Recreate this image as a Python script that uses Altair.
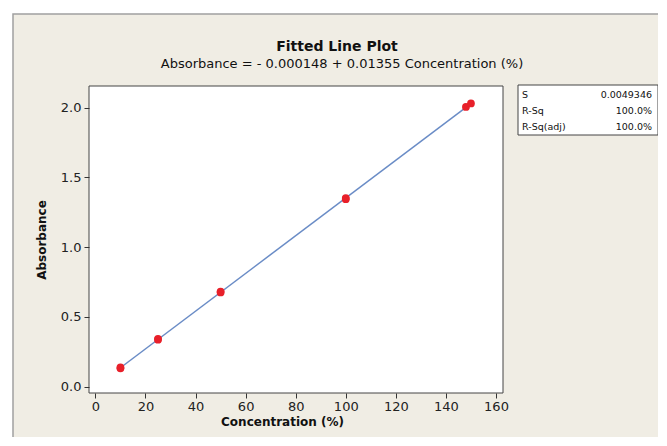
import altair as alt
import pandas as pd

# Data
concentration = [10, 10, 25, 25, 50, 50, 100, 100, 148, 150]
absorbance = [0.132, 0.138, 0.337, 0.343, 0.676, 0.682, 1.344, 1.352, 2.005, 2.03]

title_text = "Fitted Line Plot"
subtitle_text = "Absorbance =  - 0.000148 + 0.01355 Concentration (%)"
stat_names = ["S", "R-Sq", "R-Sq(adj)"]
stat_values = ["0.0049346", "100.0%", "100.0%"]

x_ticks = [0, 20, 40, 60, 80, 100, 120, 140, 160]
y_ticks = [0.0, 0.5, 1.0, 1.5, 2.0]

W, H = 414, 307
FONT = "DejaVu Sans"
BEIGE = "#f0ede4"

df = pd.DataFrame({"conc": concentration, "abs": absorbance})
one = pd.DataFrame({"k": [0]})

xscale = alt.Scale(domain=[-2.56, 162.8], nice=False, zero=False)
yscale = alt.Scale(domain=[-0.045, 2.155], nice=False, zero=False)

xaxis = alt.Axis(values=x_ticks, title="Concentration (%)", grid=False, domain=False,
                 tickSize=5, tickColor="#333", labelColor="#222", labelFontSize=13,
                 labelFont=FONT, titleFont=FONT, titleFontSize=12, titleFontWeight="bold",
                 titleColor="#111", titlePadding=3, labelPadding=2, zindex=1,
                 titleX=W / 2 - 14)
yaxis = alt.Axis(values=y_ticks, format=".1f", title="Absorbance", grid=False, domain=False,
                 tickSize=5, tickColor="#333", labelColor="#222", labelFontSize=13,
                 labelFont=FONT, titleFont=FONT, titleFontSize=12, titleFontWeight="bold",
                 titleColor="#111", titlePadding=12, labelPadding=3, zindex=1)

frame = alt.Chart(one).mark_rect(fill=BEIGE, stroke="#a0a0a0", strokeWidth=1.5).encode(
    x=alt.value(-76), x2=alt.value(700), y=alt.value(-72), y2=alt.value(500))

plotbg = alt.Chart(one).mark_rect(fill="white", stroke="#444", strokeWidth=1).encode(
    x=alt.value(0), x2=alt.value(W), y=alt.value(0), y2=alt.value(H))

statbox = alt.Chart(one).mark_rect(fill="white", stroke="#444", strokeWidth=1).encode(
    x=alt.value(429), x2=alt.value(569), y=alt.value(-1), y2=alt.value(49))

line = alt.Chart(df).transform_regression("conc", "abs").mark_line(
    color="#6a8cc6", strokeWidth=1.5).encode(
    x=alt.X("conc:Q", scale=xscale, axis=xaxis),
    y=alt.Y("abs:Q", scale=yscale, axis=yaxis))

points = alt.Chart(df).mark_point(filled=True, color="#e8202a", opacity=1, size=60).encode(
    x=alt.X("conc:Q", scale=xscale),
    y=alt.Y("abs:Q", scale=yscale))

title = alt.Chart(one).mark_text(text=title_text, font=FONT, fontSize=14, fontWeight="bold",
                                 color="#111", align="center", baseline="alphabetic").encode(
    x=alt.value(248), y=alt.value(-35))
subtitle = alt.Chart(one).mark_text(text=subtitle_text, font=FONT, fontSize=13,
                                    color="#111", align="center", baseline="alphabetic").encode(
    x=alt.value(253), y=alt.value(-18))

row_y = [9, 25, 41]
stat_layers = []
for name, val, yy in zip(stat_names, stat_values, row_y):
    stat_layers.append(alt.Chart(one).mark_text(text=name, font=FONT, fontSize=9.5, color="#111",
                                                align="left", baseline="middle").encode(
        x=alt.value(433), y=alt.value(yy)))
    stat_layers.append(alt.Chart(one).mark_text(text=val, font=FONT, fontSize=9.5, color="#111",
                                                align="right", baseline="middle").encode(
        x=alt.value(563), y=alt.value(yy)))

chart = alt.layer(frame, plotbg, statbox, line, points, title, subtitle,
                  *stat_layers).properties(
    width=W, height=H,
    autosize=alt.AutoSizeParams(type="none"),
    padding={"left": 81, "top": 78, "right": 155, "bottom": 44},
    background="white",
).configure_view(stroke=None)

chart.save("out.html", embed_options={"renderer": "svg", "actions": False})
